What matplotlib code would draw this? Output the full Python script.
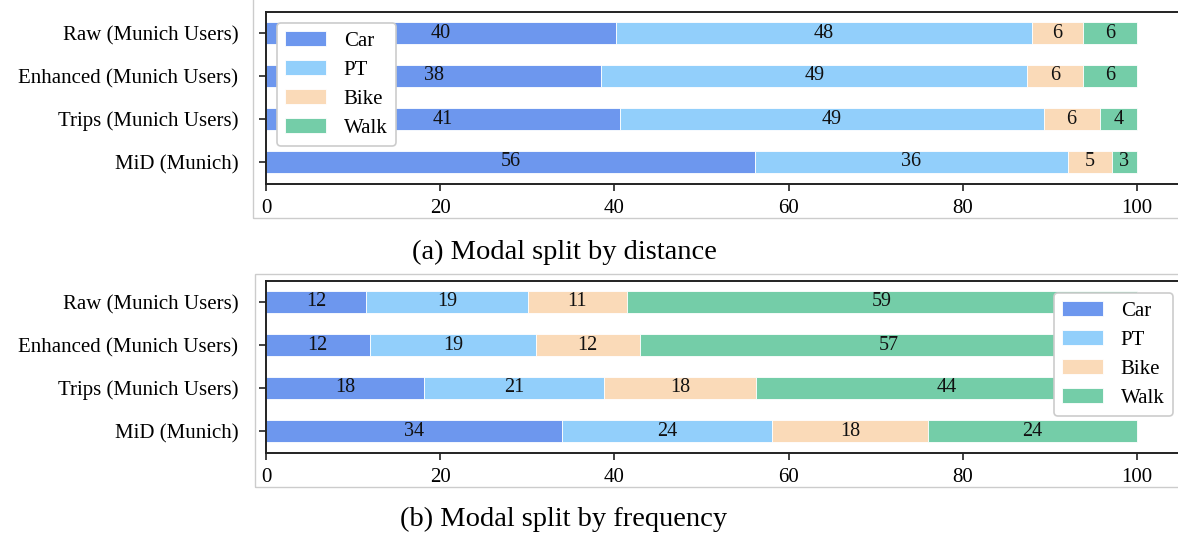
import matplotlib
matplotlib.use("Agg")
import matplotlib.pyplot as plt
from matplotlib.patches import Rectangle

categories = ["Raw (Munich Users)", "Enhanced (Munich Users)", "Trips (Munich Users)", "MiD (Munich)"]
modes = ["Car", "PT", "Bike", "Walk"]
colors = ["#6d97ee", "#92cffb", "#fadab8", "#74cda8"]

# Modal split by distance (%)
dist_car = [40.2, 38.5, 40.7, 56.1]
dist_pt = [47.7, 48.9, 48.6, 36.0]
dist_bike = [5.9, 6.4, 6.4, 5.0]
dist_walk = [6.2, 6.2, 4.3, 2.9]

# Modal split by frequency (%)
freq_car = [11.5, 11.9, 18.1, 34.0]
freq_pt = [18.6, 19.1, 20.7, 24.1]
freq_bike = [11.3, 11.9, 17.5, 17.9]
freq_walk = [58.6, 57.1, 43.7, 24.0]

xticks = [0, 20, 40, 60, 80, 100]

plt.rcParams["font.family"] = ["Liberation Serif", "DejaVu Serif"]

W, H = 1178, 536
fig = plt.figure(figsize=(W / 100, H / 100), dpi=100)


def fx(px):
    return px / W


def fy(py):
    return 1 - py / H


def draw(ax, series, legend_kw):
    ypos = list(range(len(categories)))
    left = [0.0] * len(categories)
    for name, vals, col in zip(modes, series, colors):
        bars = ax.barh(ypos, vals, left=left, height=0.5, color=col,
                       edgecolor="#ffffff", linewidth=0.6, label=name)
        labels = [f"{round(v):d}" for v in vals]
        ax.bar_label(bars, labels=labels, label_type="center", fontsize=14.5, color="#111111")
        left = [l + v for l, v in zip(left, vals)]
    ax.set_yticks(ypos)
    ax.set_yticklabels(categories, fontsize=15)
    ax.set_ylim(3.5, -0.5)
    ax.set_xlim(0, 106)
    ax.set_xticks(xticks)
    ax.set_xticklabels([str(t) for t in xticks], fontsize=15)
    for s in ["left", "bottom", "top"]:
        ax.spines[s].set_linewidth(1.4)
        ax.spines[s].set_color("#222222")
    ax.spines["right"].set_visible(False)
    ax.tick_params(axis="both", length=5, width=1.2, direction="out", color="#222222")
    ax.tick_params(axis="y", pad=15)
    ax.tick_params(axis="x", pad=6)
    leg = ax.legend(fontsize=15, frameon=True, fancybox=True, handlelength=1.95,
                    handleheight=0.7, borderpad=0.4, labelspacing=0.45, handletextpad=0.85,
                    borderaxespad=0.0, framealpha=1.0, **legend_kw)
    leg.get_frame().set_edgecolor("#cccccc")
    leg.get_frame().set_linewidth(1.2)


# top axes
ax1 = fig.add_axes([fx(266), fy(183.5), fx(266 + 106 * 8.71) - fx(266), fy(11.5) - fy(183.5)])
draw(ax1, [dist_car, dist_pt, dist_bike, dist_walk],
     dict(loc="upper left", bbox_to_anchor=(fx(277), fy(23)), bbox_transform=fig.transFigure))

# bottom axes
ax2 = fig.add_axes([fx(266), fy(452.5), fx(266 + 106 * 8.71) - fx(266), fy(280.5) - fy(452.5)])
draw(ax2, [freq_car, freq_pt, freq_bike, freq_walk],
     dict(loc="upper left", bbox_to_anchor=(fx(1054), fy(293)), bbox_transform=fig.transFigure))

# light frames around each sub-image
fig.patches.append(Rectangle((fx(253), fy(218)), 1.2, fy(-5) - fy(218), transform=fig.transFigure,
                             fill=False, edgecolor="#cccccc", linewidth=1.0))
fig.patches.append(Rectangle((fx(255), fy(487)), 1.2, fy(274) - fy(487), transform=fig.transFigure,
                             fill=False, edgecolor="#cccccc", linewidth=1.0))

fig.text(fx(564), fy(252), "(a) Modal split by distance", ha="center", va="center", fontsize=20.5)
fig.text(fx(564), fy(519), "(b) Modal split by frequency", ha="center", va="center", fontsize=20.5)

fig.savefig("out.png", dpi=100)
